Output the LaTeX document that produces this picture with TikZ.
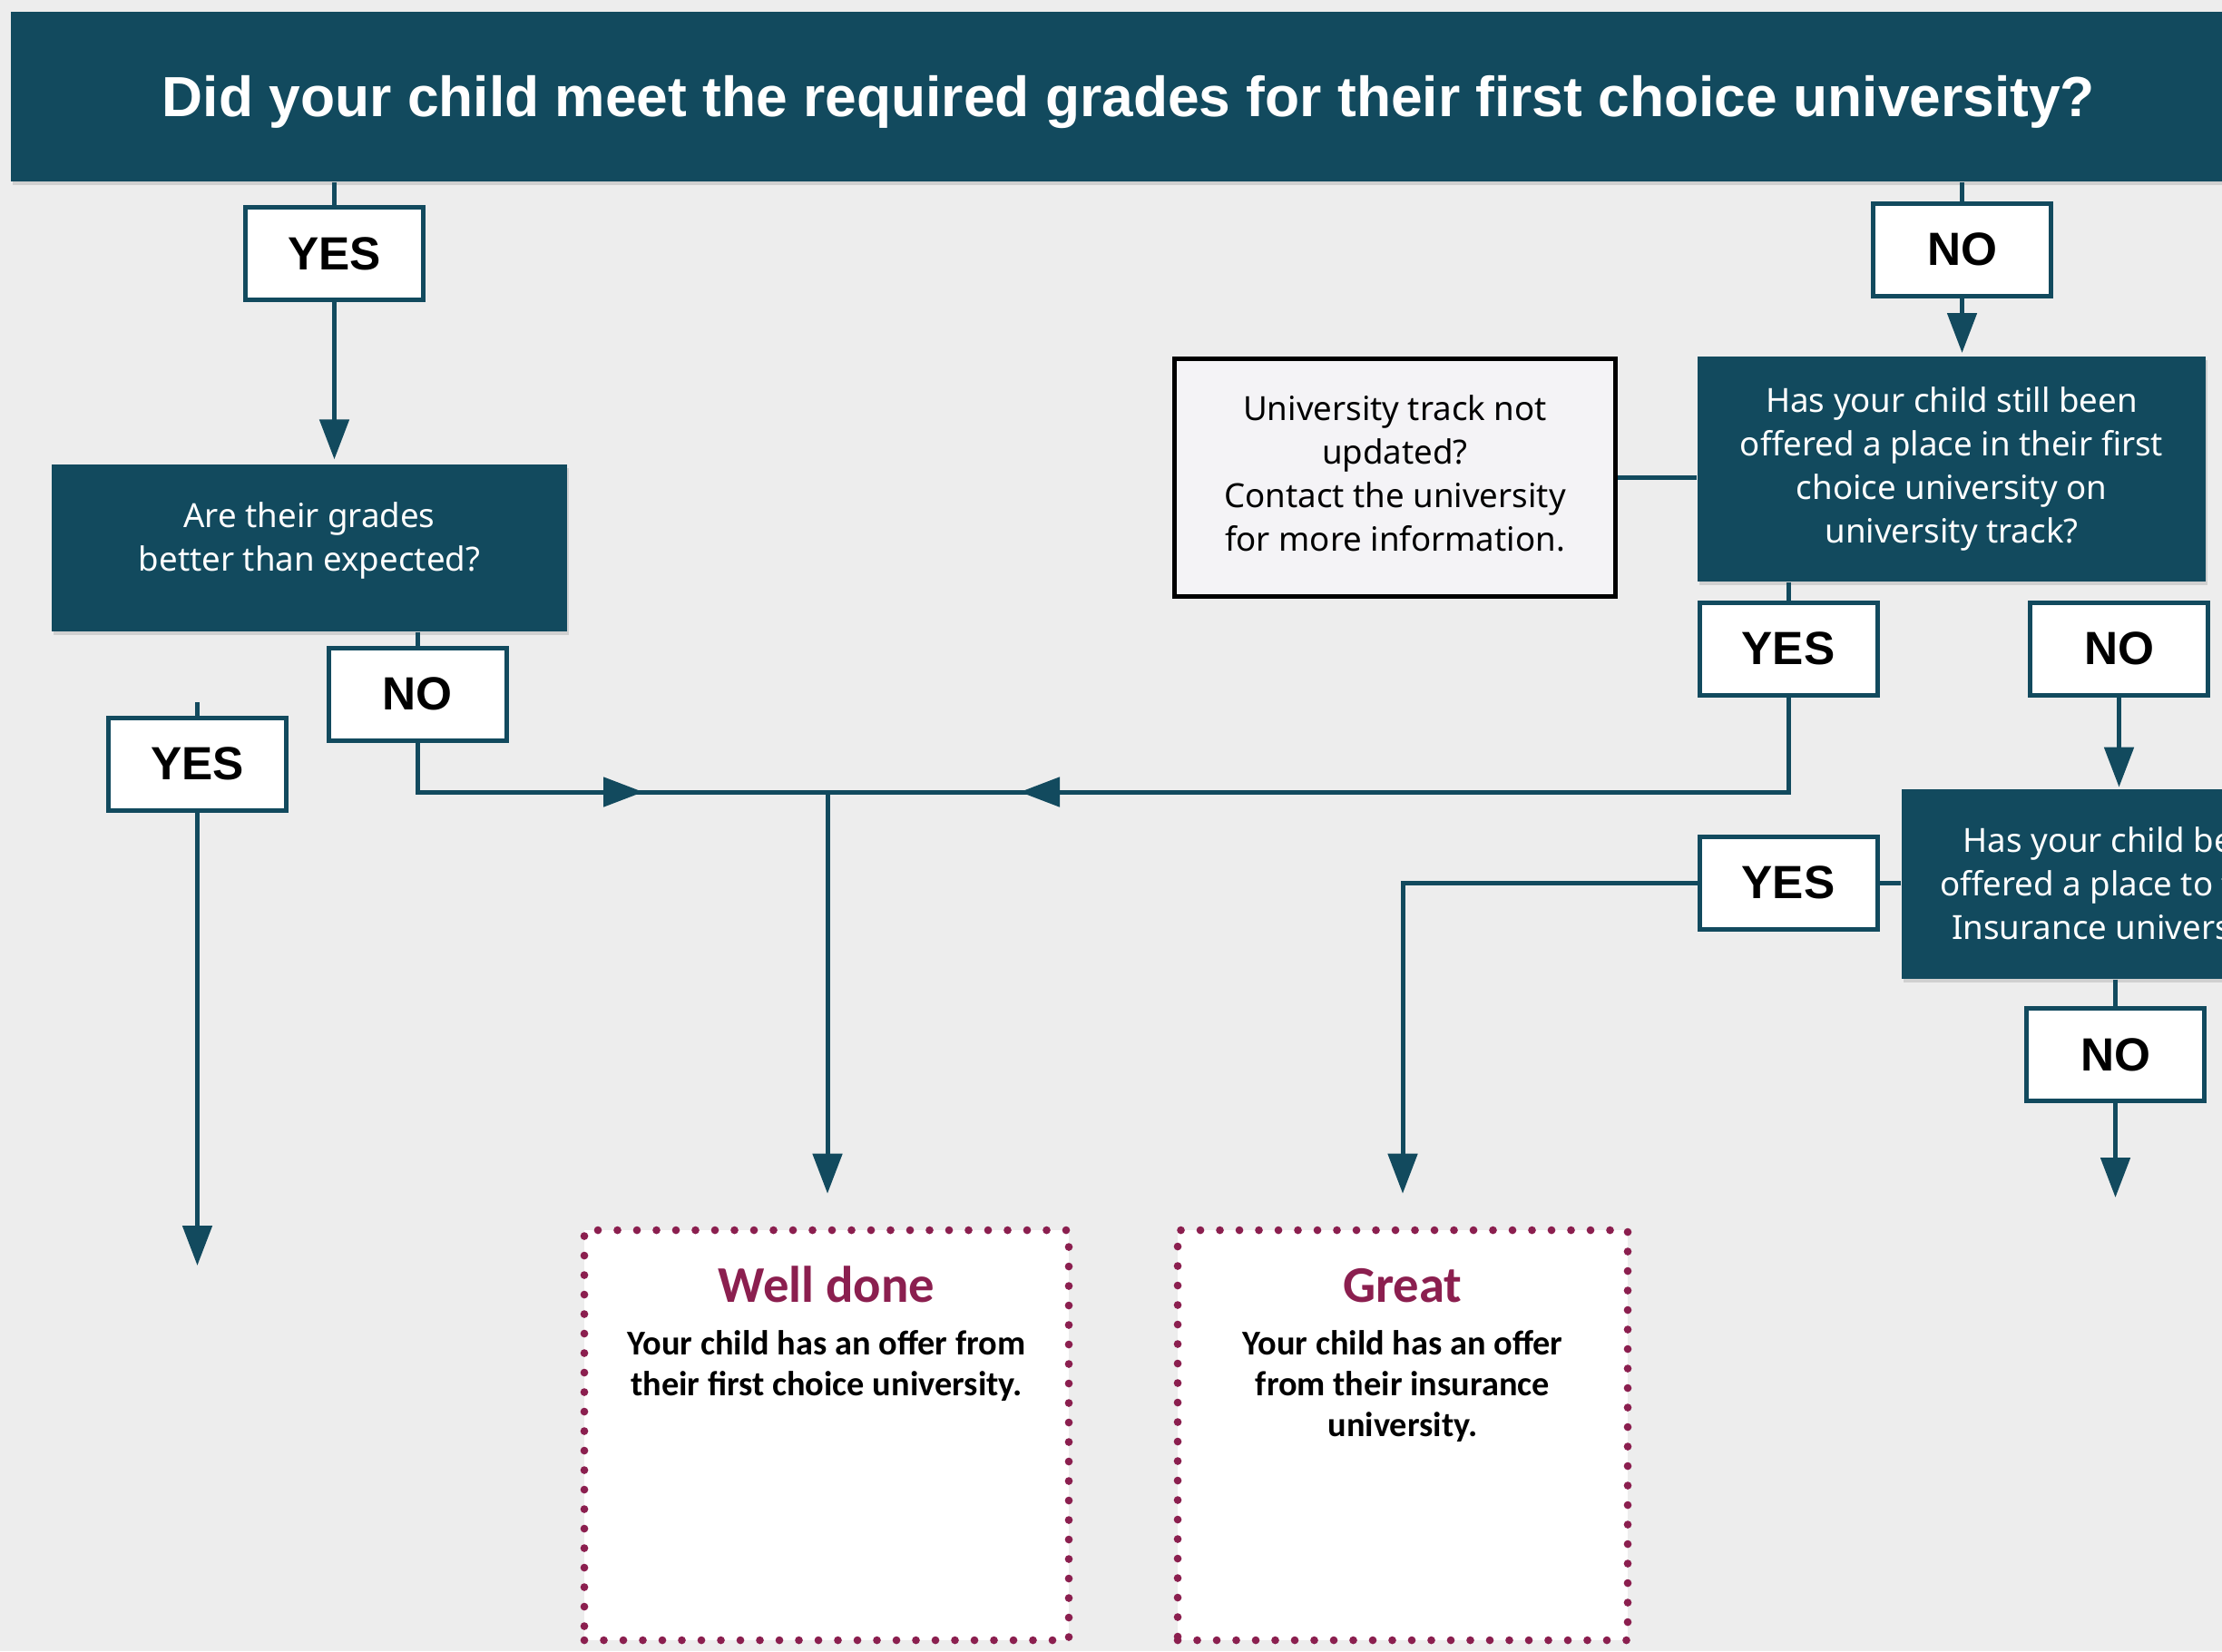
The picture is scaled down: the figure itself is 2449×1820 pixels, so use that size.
\documentclass[tikz,border=0pt]{standalone}
\usepackage{fontspec}
\setmainfont{Noto Sans}
\newfontfamily\headfont{Liberation Sans}
\newfontfamily\carfont{Carlito}
\usetikzlibrary{arrows.meta,shadows,calc}
\definecolor{dteal}{HTML}{124A5E}
\definecolor{bgc}{HTML}{EDEDED}
\definecolor{maroonc}{HTML}{8B1F4F}
\definecolor{infofill}{HTML}{F4F3F6}
\begin{document}
\begin{tikzpicture}[x=0.3pt,y=-0.3pt,
  qbox/.style={fill=dteal, inner sep=0pt,
    drop shadow={shadow xshift=0.6pt, shadow yshift=-1.2pt, opacity=0.12, fill=black}},
  qtext/.style={text=white, align=center, inner sep=0pt, font=\fontsize{11}{14.4}\selectfont},
  lab/.style={draw=dteal, line width=1.5pt, fill=white, inner sep=0pt,
    minimum width=58.8pt, minimum height=30.6pt,
    font=\headfont\bfseries\fontsize{15.4}{18}\selectfont},
  conn/.style={draw=dteal, line width=1.5pt},
  arr/.style={conn, -{Triangle[length=13.2pt,width=9.6pt]}},
  dotbox/.style={draw=maroonc, fill=white, line width=2.6pt, line cap=round,
    dash pattern=on 0pt off 6.45pt, inner sep=0pt},
  fhead/.style={text=maroonc, font=\carfont\bfseries\fontsize{17}{20}\selectfont, inner sep=0pt},
  fbody/.style={align=center, inner sep=0pt, font=\carfont\bfseries\fontsize{11.5}{13.5}\selectfont}
]
\useasboundingbox (0,0) rectangle (2449,1820);
\clip (0,0) rectangle (2449,1820);
\fill[bgc] (0,0) rectangle (2449,1820);

% title banner
\node[qbox, text=white, minimum width=739.2pt, minimum height=56.1pt, text height=13.4pt, text depth=0pt,
  font=\headfont\bfseries\fontsize{18.7}{22}\selectfont] (title) at (1244,106.5)
  {Did your child meet the required grades for their first choice university?};

% left branch
\node[lab] (yes1) at (368.5,279.5) {YES};
\node[qbox, minimum width=170.4pt, minimum height=55.2pt] (q2) at (341,604) {};
\node[qtext] (q2t) at (341,596.2) {Are their grades\\better than expected?};
\node[lab] (no2) at (460,765) {NO};
\node[lab] (yes2) at (217.5,842) {YES};

% right branch
\node[lab] (no1) at (2162.5,275) {NO};
\node[qbox, minimum width=168pt, minimum height=74.4pt] (q3) at (2151,517) {};
\node[qtext] (q3t) at (2151,517)
  {Has your child still been\\offered a place in their first\\choice university on\\university track?};
\node[draw=black, line width=1.5pt, fill=infofill, inner sep=0pt,
  minimum width=145.8pt, minimum height=78.6pt] (info) at (1537.5,526.5) {};
\node[qtext, text=black] (infot) at (1537.5,521.8)
  {University track not\\updated?\\Contact the university\\for more information.};
\node[lab] (yes3) at (1971,715) {YES};
\node[lab] (no3) at (2335.5,715) {NO};
\node[qbox, minimum width=142.8pt, minimum height=62.7pt] (q4) at (2334,974.5) {};
\node[qtext] (q4t) at (2334,978.1)
  {Has your child been\\offered a place to their\\Insurance university?};
\node[lab] (yes4) at (1971,973) {YES};
\node[lab] (no4) at (2331.5,1162.5) {NO};

% final boxes
\node[dotbox, minimum width=160.2pt, minimum height=135.6pt] (wd) at (911,1582) {};
\node[dotbox, minimum width=148.8pt, minimum height=135.6pt] (gr) at (1546,1582) {};
\node[fhead, anchor=base] (wdh) at (911,1435) {Well done};
\node[fbody, anchor=base] (wdb) at (911,1538) {Your child has an offer from\\their first choice university.};
\node[fhead, anchor=base] (grh) at (1546,1435) {Great};
\node[fbody, anchor=base] (grb) at (1546,1583) {Your child has an offer\\from their insurance\\university.};

% coordinates
\coordinate (jn) at (912,873);
\coordinate (aR) at (709,873);
\coordinate (aL) at (1124,873);
\coordinate (stub) at (217.5,774);
\coordinate (end1) at (217.5,1395);
\coordinate (end2) at (2331.5,1320);

% connectors
\draw[conn] (title.south -| yes1.north) -- (yes1.north);
\draw[arr, shorten >=1.5pt] (yes1.south) -- (yes1.south |- q2.north);
\draw[conn] (q2.south -| no2.north) -- (no2.north);
\draw[conn] (stub) -- (yes2.north);
\draw[arr] (yes2.south) -- (end1);
\draw[conn] (no2.south) |- (jn);
\draw[conn] (yes3.south) |- (jn);
\draw[arr] ($(aR)+(-30,0)$) -- (aR);
\draw[arr] ($(aL)+(30,0)$) -- (aL);
\draw[arr, shorten >=10.8pt] (jn) -- (jn |- wd.north);

\draw[conn] (title.south -| no1.north) -- (no1.north);
\draw[arr, shorten >=1pt] (no1.south) -- (no1.south |- q3.north);
\draw[conn] (info.east) -- (info.east -| q3.west);
\draw[conn] (q3.south -| yes3.north) -- (yes3.north);
\draw[arr, shorten >=0.5pt] (no3.south) -- (no3.south |- q4.north);
\draw[conn] (q4.west |- yes4.east) -- (yes4.east);
\draw[arr, shorten >=10.8pt] (yes4.west) -| (gr.north);
\draw[conn] (q4.south -| no4.north) -- (no4.north);
\draw[arr] (no4.south) -- (end2);
\end{tikzpicture}
\end{document}
